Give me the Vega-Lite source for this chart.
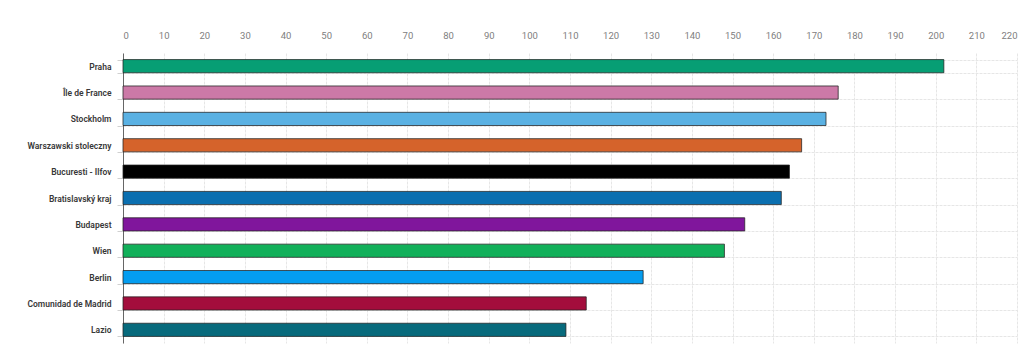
{
  "$schema": "https://vega.github.io/schema/vega-lite/v6.json",
  "width": 894,
  "height": 290,
  "autosize": "none",
  "padding": {"left": 123, "top": 53, "right": 7, "bottom": 16},
  "background": "white",
  "config": {"view": {"stroke": null}, "font": "Roboto"},
  "data": {
    "values": [
      {"region": "Praha", "value": 202, "color": "#079E74"},
      {"region": "Île de France", "value": 176, "color": "#CC79A7"},
      {"region": "Stockholm", "value": 173, "color": "#5AB1E3"},
      {"region": "Warszawski stoleczny", "value": 167, "color": "#D5632B"},
      {"region": "Bucuresti - Ilfov", "value": 164, "color": "#000000"},
      {"region": "Bratislavský kraj", "value": 162, "color": "#0B6FB0"},
      {"region": "Budapest", "value": 153, "color": "#80169C"},
      {"region": "Wien", "value": 148, "color": "#12B05A"},
      {"region": "Berlin", "value": 128, "color": "#049DF0"},
      {"region": "Comunidad de Madrid", "value": 114, "color": "#A30D3C"},
      {"region": "Lazio", "value": 109, "color": "#076A7C"}
    ]
  },
  "mark": {"type": "bar", "stroke": "#222222", "strokeOpacity": 0.75, "strokeWidth": 1},
  "encoding": {
    "y": {
      "field": "region",
      "type": "nominal",
      "sort": {"field": "value", "order": "descending"},
      "scale": {"paddingInner": 0.5, "paddingOuter": 0.25},
      "axis": {
        "title": null,
        "tickBand": "extent",
        "domainColor": "#666666",
        "domainWidth": 1,
        "tickColor": "#d0d0d0",
        "tickSize": 6,
        "labelPadding": 6,
        "labelFontSize": 8.5,
        "labelFontWeight": 600,
        "labelColor": "#383838",
        "grid": true,
        "gridColor": "#e6e6e6",
        "gridDash": [3, 1]
      }
    },
    "x": {
      "field": "value",
      "type": "quantitative",
      "scale": {"domain": [0, 220], "nice": false},
      "axis": {
        "orient": "top",
        "title": null,
        "values": [0, 10, 20, 30, 40, 50, 60, 70, 80, 90, 100, 110, 120, 130, 140, 150, 160, 170, 180, 190, 200, 210, 220],
        "domain": false,
        "ticks": false,
        "labelPadding": 13,
        "labelFontSize": 9.5,
        "labelColor": "#808080",
        "gridColor": "#e6e6e6",
        "gridDash": [3, 1]
      }
    },
    "color": {"field": "color", "type": "nominal", "scale": null, "legend": null}
  }
}
